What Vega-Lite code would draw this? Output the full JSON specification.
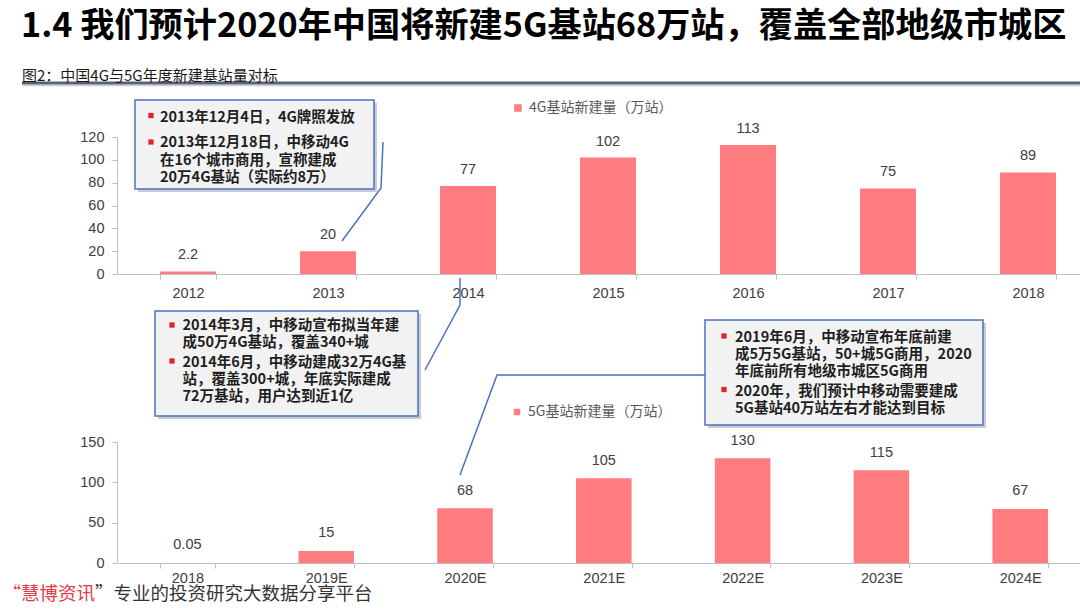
{
  "$schema": "https://vega.github.io/schema/vega-lite/v6.json",
  "width": 1080,
  "height": 613,
  "autosize": {"type": "none"},
  "padding": 0,
  "background": "white",
  "config": {"view": {"stroke": null}, "axis": {"grid": false}},
  "datasets": {
    "g4": [
      {"year": "2012", "v": 2.2, "s": "4G基站新建量（万站）"},
      {"year": "2013", "v": 20, "s": "4G基站新建量（万站）"},
      {"year": "2014", "v": 77, "s": "4G基站新建量（万站）"},
      {"year": "2015", "v": 102, "s": "4G基站新建量（万站）"},
      {"year": "2016", "v": 113, "s": "4G基站新建量（万站）"},
      {"year": "2017", "v": 75, "s": "4G基站新建量（万站）"},
      {"year": "2018", "v": 89, "s": "4G基站新建量（万站）"}
    ],
    "g5": [
      {"year": "2018", "v": 0.05, "s": "5G基站新建量（万站）"},
      {"year": "2019E", "v": 15, "s": "5G基站新建量（万站）"},
      {"year": "2020E", "v": 68, "s": "5G基站新建量（万站）"},
      {"year": "2021E", "v": 105, "s": "5G基站新建量（万站）"},
      {"year": "2022E", "v": 130, "s": "5G基站新建量（万站）"},
      {"year": "2023E", "v": 115, "s": "5G基站新建量（万站）"},
      {"year": "2024E", "v": 67, "s": "5G基站新建量（万站）"}
    ],
    "notes": [
      {"u": -0.2, "v": 137.08, "t": "2013年12月4日，4G牌照发放"},
      {"u": -0.2, "v": 114.74, "t": "2013年12月18日，中移动4G"},
      {"u": -0.2, "v": 98.98, "t": "在16个城市商用，宣称建成"},
      {"u": -0.2, "v": 83.65, "t": "20万4G基站（实际约8万）"},
      {"u": -0.0393, "v": -45.55, "t": "2014年3月，中移动宣布拟当年建"},
      {"u": -0.0393, "v": -60.44, "t": "成50万4G基站，覆盖340+城"},
      {"u": -0.0393, "v": -77.52, "t": "2014年6月，中移动建成32万4G基"},
      {"u": -0.0393, "v": -92.85, "t": "站，覆盖300+城，年底实际建成"},
      {"u": -0.0393, "v": -108.17, "t": "72万基站，用户达到近1亿"},
      {"u": 3.9071, "v": -56.06, "t": "2019年6月，中移动宣布年底前建"},
      {"u": 3.9071, "v": -70.95, "t": "成5万5G基站，50+城5G商用，2020"},
      {"u": 3.9071, "v": -85.84, "t": "年底前所有地级市城区5G商用"},
      {"u": 3.9071, "v": -103.36, "t": "2020年，我们预计中移动需要建成"},
      {"u": 3.9071, "v": -118.25, "t": "5G基站40万站左右才能达到目标"}
    ],
    "bullets": [
      {"u": -0.2643, "v": 138.83}, {"u": -0.2643, "v": 115.62},
      {"u": -0.1143, "v": -44.67}, {"u": -0.1143, "v": -76.2},
      {"u": 3.8286, "v": -54.31}, {"u": 3.8286, "v": -101.17}
    ],
    "boxes": [
      {"u": -0.3786, "u2": 1.3286, "v": 152.41, "v2": 74.45},
      {"u": -0.2357, "u2": 1.6429, "v": -32.41, "v2": -124.38},
      {"u": 3.6929, "u2": 5.6786, "v": -40.29, "v2": -132.26}
    ],
    "links": [
      {"g": 1, "k": 1, "u": 1.3929, "v": 115.62}, {"g": 1, "k": 2, "u": 1.3786, "v": 75.33}, {"g": 1, "k": 3, "u": 1.1, "v": 28.91},
      {"g": 2, "k": 1, "u": 1.6929, "v": -84.09}, {"g": 2, "k": 2, "u": 1.9429, "v": -27.15}, {"g": 2, "k": 3, "u": 1.9429, "v": -3.5},
      {"g": 3, "k": 1, "u": 3.6929, "v": -88.47}, {"g": 3, "k": 2, "u": 2.2071, "v": -88.47}, {"g": 3, "k": 3, "u": 1.9429, "v": -176.06}
    ],
    "page": [
      {"id": "title", "u": -1.1929, "v": 216.35, "t": "1.4  我们预计2020年中国将新建5G基站68万站，覆盖全部地级市城区"},
      {"id": "sub", "u": -1.1857, "v": 173.43, "t": "图2：中国4G与5G年度新建基站量对标"},
      {"id": "foot1", "u": -0.6643, "v": -280.29, "t": "“慧博资讯"},
      {"id": "foot2", "u": -0.6643, "v": -280.29, "t": "”专业的投资研究大数据分享平台"}
    ],
    "rules": [
      {"id": "dark", "u": -1.1857, "u2": 6.5, "v": 167.3},
      {"id": "light", "u": -1.1857, "u2": 6.5, "v": 165.11}
    ]
  },
  "layer": [
    {
      "data": {"name": "g4"},
      "encoding": {
        "x": {"field": "year", "type": "nominal", "sort": null,
          "scale": {"range": [118, 1098], "paddingInner": 0.6, "paddingOuter": 0.3},
          "axis": {"orient": "bottom", "offset": -339, "title": null, "labelAngle": 0, "tickBand": "extent",
            "domainColor": "#bfbfbf", "tickColor": "#bfbfbf", "tickSize": 5, "labelPadding": 7,
            "labelFont": "Liberation Sans", "labelFontSize": 14.5, "labelColor": "#404040"}},
        "y": {"field": "v", "type": "quantitative",
          "scale": {"domain": [0, 120], "range": [274, 137], "nice": false},
          "axis": {"orient": "left", "offset": -117, "title": null, "values": [0, 20, 40, 60, 80, 100, 120],
            "domainColor": "#bfbfbf", "tickColor": "#bfbfbf", "tickSize": 5, "labelPadding": 8,
            "labelFont": "Liberation Sans", "labelFontSize": 14.5, "labelColor": "#404040"}}
      },
      "layer": [
        {"mark": {"type": "bar"},
          "encoding": {"color": {"field": "s", "type": "nominal", "scale": {"range": ["#ff7c80"]},
            "legend": {"title": null, "orient": "none", "legendX": 511, "legendY": 101, "symbolType": "square",
              "symbolSize": 56, "symbolStrokeWidth": 0, "labelFont": "Noto Sans CJK SC", "labelFontSize": 14,
              "labelColor": "#595959", "labelOffset": 4, "padding": 0}}}},
        {"mark": {"type": "text", "dy": -12, "baseline": "alphabetic", "font": "Liberation Sans", "fontSize": 14.5, "color": "#404040"},
          "encoding": {"text": {"field": "v", "type": "nominal"}}}
      ]
    },
    {
      "data": {"name": "g5"},
      "encoding": {
        "x": {"field": "year", "type": "nominal", "sort": null,
          "scale": {"range": [118, 1089.6], "paddingInner": 0.6, "paddingOuter": 0.3},
          "axis": {"orient": "bottom", "offset": -50, "title": null, "labelAngle": 0, "tickBand": "extent",
            "domainColor": "#bfbfbf", "tickColor": "#bfbfbf", "tickSize": 5, "labelPadding": 3,
            "labelFont": "Liberation Sans", "labelFontSize": 14.5, "labelColor": "#404040"}},
        "y": {"field": "v", "type": "quantitative",
          "scale": {"domain": [0, 150], "range": [563, 442], "nice": false},
          "axis": {"orient": "left", "offset": -117, "title": null, "values": [0, 50, 100, 150],
            "domainColor": "#bfbfbf", "tickColor": "#bfbfbf", "tickSize": 5, "labelPadding": 8,
            "labelFont": "Liberation Sans", "labelFontSize": 14.5, "labelColor": "#404040"}}
      },
      "layer": [
        {"mark": {"type": "bar"},
          "encoding": {"color": {"field": "s", "type": "nominal", "scale": {"range": ["#ff7c80"]},
            "legend": {"title": null, "orient": "none", "legendX": 510, "legendY": 405, "symbolType": "square",
              "symbolSize": 42, "symbolStrokeWidth": 0, "labelFont": "Noto Sans CJK SC", "labelFontSize": 14,
              "labelColor": "#595959", "labelOffset": 4, "padding": 0}}}},
        {"mark": {"type": "text", "dy": -13.5, "baseline": "alphabetic", "font": "Liberation Sans", "fontSize": 14.5, "color": "#404040"},
          "encoding": {"text": {"field": "v", "type": "nominal"}}}
      ]
    },
    {
      "encoding": {
        "x": {"field": "u", "type": "quantitative", "scale": {"domain": [-0.5, 6.5], "range": [118, 1098], "nice": false, "zero": false}, "axis": null},
        "y": {"field": "v", "type": "quantitative", "scale": {"domain": [0, 120], "range": [274, 137], "nice": false, "zero": false}, "axis": null}
      },
      "layer": [
        {"data": {"name": "rules"}, "transform": [{"filter": "datum.id === 'light'"}],
          "mark": {"type": "rule", "color": "#c9ced8", "strokeWidth": 1.5},
          "encoding": {"x2": {"field": "u2"}}},
        {"data": {"name": "rules"}, "transform": [{"filter": "datum.id === 'dark'"}],
          "mark": {"type": "rule", "color": "#596173", "strokeWidth": 3},
          "encoding": {"x2": {"field": "u2"}}},
        {"data": {"name": "boxes"},
          "mark": {"type": "rect", "fill": "#9a9a9a", "opacity": 0.5, "xOffset": 3, "x2Offset": 3, "yOffset": 3, "y2Offset": 3},
          "encoding": {"x2": {"field": "u2"}, "y2": {"field": "v2"}}},
        {"data": {"name": "boxes"},
          "mark": {"type": "rect", "fill": "#f2f2f2", "stroke": "#4a72c0", "strokeWidth": 1.5},
          "encoding": {"x2": {"field": "u2"}, "y2": {"field": "v2"}}},
        {"data": {"name": "links"},
          "mark": {"type": "line", "color": "#4a72c0", "strokeWidth": 1.5},
          "encoding": {"order": {"field": "k", "type": "quantitative"}, "detail": {"field": "g", "type": "nominal"}}},
        {"data": {"name": "bullets"},
          "mark": {"type": "square", "size": 28, "color": "#e0242b", "opacity": 1, "filled": true}},
        {"data": {"name": "notes"},
          "mark": {"type": "text", "align": "left", "baseline": "middle", "font": "Noto Sans CJK SC", "fontSize": 14.5, "fontWeight": "bold", "color": "#1f1f1f"},
          "encoding": {"text": {"field": "t", "type": "nominal"}}},
        {"data": {"name": "page"}, "transform": [{"filter": "datum.id === 'title'"}],
          "mark": {"type": "text", "align": "left", "baseline": "middle", "font": "Noto Sans CJK SC", "fontSize": 34.2, "fontWeight": "bold", "color": "#000000"},
          "encoding": {"text": {"field": "t", "type": "nominal"}}},
        {"data": {"name": "page"}, "transform": [{"filter": "datum.id === 'sub'"}],
          "mark": {"type": "text", "align": "left", "baseline": "middle", "font": "Noto Sans CJK SC", "fontSize": 15, "color": "#1a1a1a"},
          "encoding": {"text": {"field": "t", "type": "nominal"}}},
        {"data": {"name": "page"}, "transform": [{"filter": "datum.id === 'foot1'"}],
          "mark": {"type": "text", "align": "right", "baseline": "middle", "font": "Noto Sans CJK SC", "fontSize": 18.5, "color": "#e63946"},
          "encoding": {"text": {"field": "t", "type": "nominal"}}},
        {"data": {"name": "page"}, "transform": [{"filter": "datum.id === 'foot2'"}],
          "mark": {"type": "text", "align": "left", "baseline": "middle", "font": "Noto Sans CJK SC", "fontSize": 18.5, "color": "#333333"},
          "encoding": {"text": {"field": "t", "type": "nominal"}}}
      ]
    }
  ],
  "resolve": {
    "scale": {"x": "independent", "y": "independent", "color": "independent"},
    "axis": {"x": "independent", "y": "independent"},
    "legend": {"color": "independent"}
  }
}
